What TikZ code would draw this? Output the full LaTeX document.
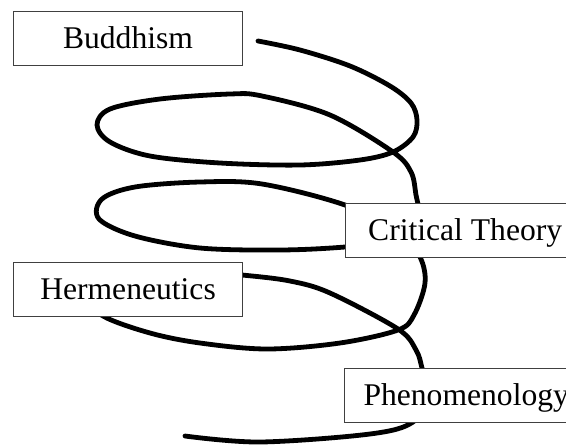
\documentclass[tikz,border=0pt]{standalone}
\usepackage{fontspec}
\setmainfont{Liberation Serif}
\begin{document}
\begin{tikzpicture}[x=0.75pt,y=-0.75pt,
  spiral/.style={line width=3.6pt,line cap=round,line join=round,black},
  lbox/.style={draw=boxgray,line width=0.8pt,fill=white,inner ysep=0pt,
    text height=27.75pt,text depth=12.75pt,minimum width=171.75pt,
    anchor=north west,font=\fontsize{23.7}{28}\selectfont},
  rbox/.style={lbox,minimum width=0pt,inner xsep=#1},
  rbox/.default=17pt]
\definecolor{boxgray}{HTML}{404040}
\useasboundingbox (0,0) rectangle (566,446);
\clip (0,0) rectangle (566,446);
\draw[spiral] plot[smooth,tension=0.55] coordinates {
 (258,41) (300,50) (350,66) (390,86) (411,103) (417,120) (413,137) (393,152)
 (360,160) (300,165) (220,163) (150,156) (110,142) (97,125) (110,109)
 (160,99) (230,94) (262,96) (330,115) (393,152) (411,172) (416,195)
 (420,222) (405,240) (345,247) (280,250) (200,248) (135,236) (99,219)
 (102,199) (135,187) (200,182) (262,184) (345,205) (400,232) (420,257)
 (425,283) (414,315) (398,330) (340,343) (267,349) (200,343) (150,333)
 (103,316) (85,295) (130,277) (200,272) (242,275) (290,281) (330,293)
 (398,329) (416,350) (422,368) (428,395) (413,422) (370,434) (260,442)
 (185,436)};
\node[lbox] (budd) at (13,11) {Buddhism};
\node[lbox] (herm) at (13,262) {Hermeneutics};
\node[rbox=17pt] (crit) at (345,203) {Critical Theory};
\node[rbox=14.25pt] (phen) at (344,368) {Phenomenology};
\end{tikzpicture}
\end{document}
